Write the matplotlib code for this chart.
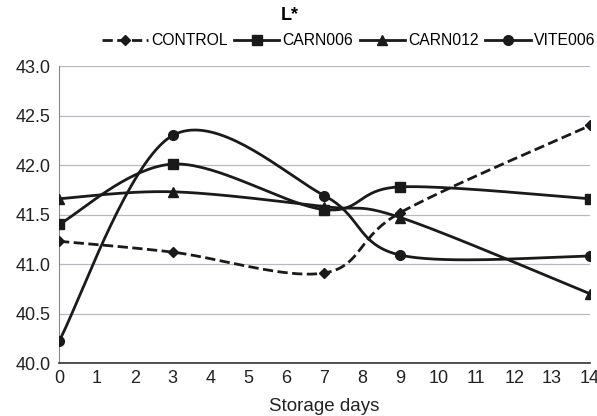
import numpy as np
import matplotlib.pyplot as plt

# --- dati ---
days = [0, 3, 7, 9, 14]
control = [41.23, 41.12, 40.91, 41.52, 42.40]
carn006 = [41.40, 42.01, 41.55, 41.78, 41.66]
carn012 = [41.66, 41.73, 41.58, 41.47, 40.70]
vite006 = [40.22, 42.30, 41.69, 41.09, 41.08]

series = [
    ('CONTROL', control, 'D', '--', 5),
    ('CARN006', carn006, 's', '-', 7),
    ('CARN012', carn012, '^', '-', 7),
    ('VITE006', vite006, 'o', '-', 7),
]

plt.rcParams['font.family'] = ['Liberation Sans', 'DejaVu Sans']


def smooth_display(ax, x, y, n=40):
    # curva tipo Excel (Catmull-Rom in coordinate schermo)
    pts = ax.transData.transform(np.column_stack([x, y]))
    p = np.vstack([pts[0], pts, pts[-1]])
    out = []
    for i in range(1, len(p) - 2):
        p0, p1, p2, p3 = p[i - 1], p[i], p[i + 1], p[i + 2]
        c1 = p1 + (p2 - p0) / 6
        c2 = p2 - (p3 - p1) / 6
        t = np.linspace(0, 1, n)[:, None]
        seg = ((1 - t) ** 3) * p1 + 3 * ((1 - t) ** 2) * t * c1 + 3 * (1 - t) * t ** 2 * c2 + t ** 3 * p2
        out.append(seg if i == 1 else seg[1:])
    out = np.vstack(out)
    back = ax.transData.inverted().transform(out)
    return back[:, 0], back[:, 1]


fig = plt.figure(figsize=(5.97, 4.16), dpi=100)
ax = fig.add_axes([0.0988, 0.1274, 0.8895, 0.7137])
ax.set_xlim(0, 14)
ax.set_ylim(40.0, 43.0)
fig.canvas.draw()

handles = []
for name, vals, mk, ls, ms in series:
    xs, ys = smooth_display(ax, days, vals)
    ax.plot(xs, ys, color='#1a1a1a', linestyle=ls, linewidth=2, zorder=3)
    ax.plot(days, vals, linestyle='none', marker=mk, color='#1a1a1a', markersize=ms, zorder=4)
    h, = ax.plot([], [], color='#1a1a1a', linestyle=ls, linewidth=2, marker=mk, markersize=ms)
    h.set_label(name)
    handles.append(h)

ax.set_xticks(range(0, 15))
ax.set_yticks(np.arange(40.0, 43.01, 0.5))
ax.set_yticklabels([f'{v:.1f}' for v in np.arange(40.0, 43.01, 0.5)])
ax.tick_params(length=0, labelsize=13, colors='#222222')
ax.tick_params(axis='x', pad=5)
ax.tick_params(axis='y', pad=6)
ax.grid(axis='y', color='#b8b8c0', linewidth=0.9)
ax.set_axisbelow(True)
for s in ['top', 'right']:
    ax.spines[s].set_visible(False)
ax.spines['left'].set_color('#888888')
ax.spines['bottom'].set_color('#333333')
ax.spines['bottom'].set_linewidth(1.2)
ax.set_xlabel('Storage days', fontsize=13.5, labelpad=8, color='#222222')

fig.text(0.486, 0.962, 'L*', ha='center', va='center', fontsize=13, fontweight='bold')
fig.legend(handles=handles, loc='center right', bbox_to_anchor=(0.997, 0.902), ncol=4, frameon=False,
           fontsize=11.3, handlelength=2.9, handletextpad=0.2, columnspacing=0.4, borderpad=0,
           borderaxespad=0)

fig.savefig('out.png', dpi=100)
